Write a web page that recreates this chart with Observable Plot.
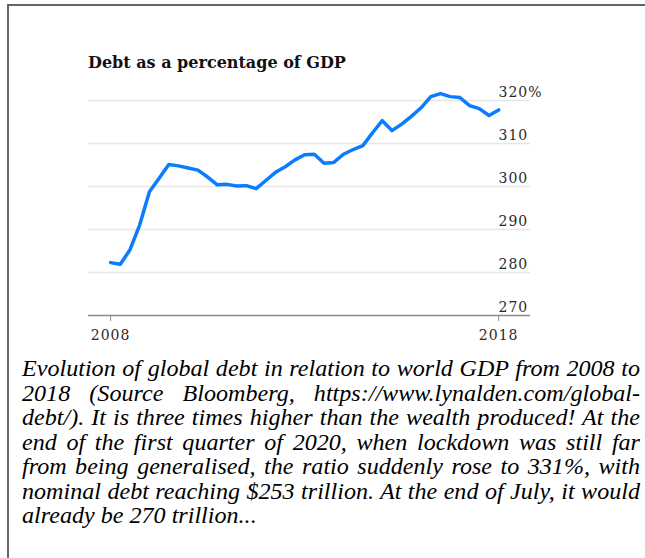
<!DOCTYPE html>
<html><head><meta charset="utf-8">
<script src="https://cdn.jsdelivr.net/npm/d3@7"></script>
<script src="https://cdn.jsdelivr.net/npm/@observablehq/plot@0.6"></script>
<style>
html,body{margin:0;padding:0;background:#fff;}
#page{position:relative;width:645px;height:558px;overflow:hidden;}
#frame{position:absolute;left:7px;top:4px;right:0;bottom:0;border-top:2px solid #666;border-left:2px solid #666;}
#title{position:absolute;left:88px;top:53px;font:bold 16px "DejaVu Serif";color:#111;white-space:nowrap;}
#chart{position:absolute;left:0;top:75px;}
#chart svg text{letter-spacing:1px;}
#caption{position:absolute;left:22px;top:356px;width:618px;font-family:"Liberation Serif";font-style:italic;line-height:24.5px;color:#000;}
#caption div{text-align:justify;text-align-last:justify;}
#caption div:last-child{text-align-last:left;}
#measure{position:absolute;visibility:hidden;white-space:nowrap;font-family:"Liberation Serif";font-style:italic;font-size:20px;}
</style></head>
<body><div id="page"><div id="frame"></div><div id="title"></div><div id="chart"></div><div id="caption"></div><span id="measure"></span></div>
<script>
const titleText = "Debt as a percentage of GDP";
const startYear = 2008;
// quarterly debt as % of GDP, 2008Q1 .. 2018Q1
const debtPct = [282.3, 281.9, 285.3, 291.1, 298.8, 301.9, 305.1, 304.8, 304.3, 303.8,
                 302.2, 300.4, 300.5, 300.1, 300.2, 299.5, 301.4, 303.3, 304.6, 306.2,
                 307.4, 307.5, 305.4, 305.6, 307.5, 308.6, 309.5, 312.5, 315.3, 313.0,
                 314.5, 316.3, 318.3, 320.9, 321.6, 320.9, 320.7, 318.8, 318.1, 316.5, 317.8];
const yTicks = [270, 280, 290, 300, 310, 320];
const xTicks = [2008, 2018];
const xDomain = [2007.43, 2018.82];
const captionLines = [
  "Evolution of global debt in relation to world GDP from 2008 to",
  "2018 (Source Bloomberg, https://www.lynalden.com/global-",
  "debt/). It is three times higher than the wealth produced! At the",
  "end of the first quarter of 2020, when lockdown was still far",
  "from being generalised, the ratio suddenly rose to 331%, with",
  "nominal debt reaching $253 trillion. At the end of July, it would",
  "already be 270 trillion..."
];

document.getElementById("title").textContent = titleText;
// fit caption font so the widest line just fills the column
const meas = document.getElementById("measure");
let maxW = 0;
for (const l of captionLines) { meas.textContent = l; maxW = Math.max(maxW, meas.getBoundingClientRect().width); }
meas.remove();
const capSize = Math.min(26, 20 * 614 / maxW);
const cap = document.getElementById("caption");
cap.style.fontSize = capSize + "px";
for (const l of captionLines) { const d = document.createElement("div"); d.textContent = l; cap.appendChild(d); }

const data = debtPct.map((v, i) => ({t: startYear + i / 4, v}));
const chart = Plot.plot({
  width: 645, height: 275,
  marginLeft: 88, marginRight: 115, marginTop: 25, marginBottom: 35,
  x: {domain: xDomain, label: null},
  y: {domain: [270, 320], label: null},
  style: {fontFamily: "DejaVu Serif", fontSize: "14px", color: "#2a2a2a", background: "transparent"},
  marks: [
    Plot.gridY(yTicks.filter(d => d > 270), {stroke: "#e6e6e6", strokeOpacity: 1, strokeWidth: 1.5}),
    Plot.ruleY([270], {stroke: "#8a8a8a", strokeWidth: 1.5}),
    Plot.axisX(xTicks, {tickSize: 6, tickPadding: 9, stroke: "#8a8a8a", tickFormat: d => String(d)}),
    Plot.axisY(yTicks, {anchor: "right", tickSize: 0, tickPadding: 0, dx: -32, dy: -8,
      tickFormat: d => d === 320 ? "320%" : String(d)}),
    Plot.line(data, {x: "t", y: "v", stroke: "#0a7cff", strokeWidth: 3.5, strokeLinejoin: "round"})
  ]
});
document.getElementById("chart").appendChild(chart);
</script>
</body></html>
